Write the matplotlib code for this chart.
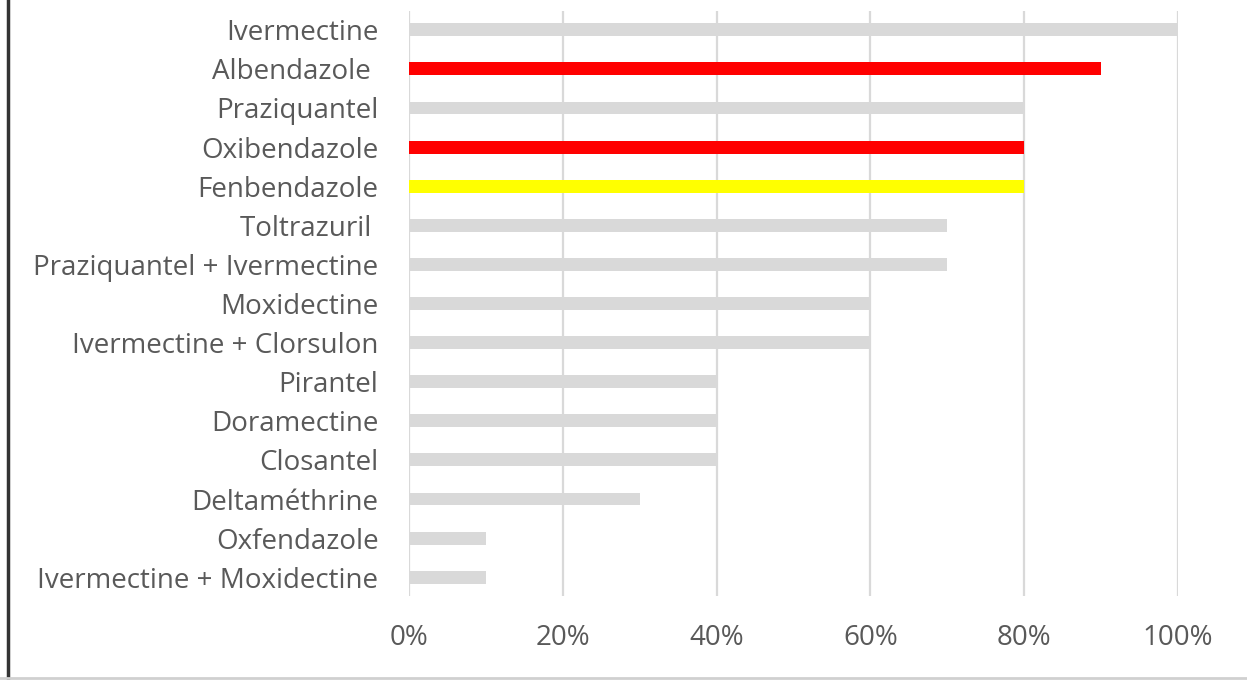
import matplotlib
matplotlib.use("Agg")
import matplotlib.pyplot as plt
from matplotlib.lines import Line2D
from matplotlib.ticker import PercentFormatter

medicamentos = ["Ivermectine", "Albendazole ", "Praziquantel", "Oxibendazole",
                "Fenbendazole", "Toltrazuril ", "Praziquantel + Ivermectine",
                "Moxidectine", "Ivermectine + Clorsulon", "Pirantel",
                "Doramectine", "Closantel", "Deltaméthrine", "Oxfendazole",
                "Ivermectine + Moxidectine"]
valores = [100, 90, 80, 80, 80, 70, 70, 60, 60, 40, 40, 40, 30, 10, 10]
cores = ["#D9D9D9", "#FF0000", "#D9D9D9", "#FF0000", "#FFFF00"] + ["#D9D9D9"] * 10
ticks_x = [0, 20, 40, 60, 80, 100]

plt.rcParams['font.family'] = ['Open Sans', 'DejaVu Sans']
texto = "#595959"

fig = plt.figure(figsize=(12.47, 6.8), dpi=100)
ax = fig.add_axes([409 / 1247, 84 / 680, (1178 - 409) / 1247, (596 - 11) / 680])

pos = list(range(len(medicamentos)))
ax.barh(pos, valores, height=0.33, color=cores, zorder=2)
ax.set_ylim(len(medicamentos) - 0.52, -0.48)
ax.set_xlim(0, 100)
ax.set_yticks(pos)
ax.set_yticklabels(medicamentos)
ax.set_xticks(ticks_x)
ax.xaxis.set_major_formatter(PercentFormatter(decimals=0))
ax.grid(axis='x', color="#D9D9D9", linewidth=1.6, zorder=0)
for lado in ax.spines.values():
    lado.set_visible(False)
ax.tick_params(axis='both', length=0, labelcolor=texto, labelsize=20)
ax.tick_params(axis='y', pad=22)
ax.tick_params(axis='x', pad=20)

# moldura da figura
fig.add_artist(Line2D([8 / 1247, 8 / 1247], [0, 1], color="#333333", linewidth=2.5))
fig.add_artist(Line2D([0, 1], [2 / 680, 2 / 680], color="#D0D0D0", linewidth=2))

fig.savefig("out.png", dpi=100)
